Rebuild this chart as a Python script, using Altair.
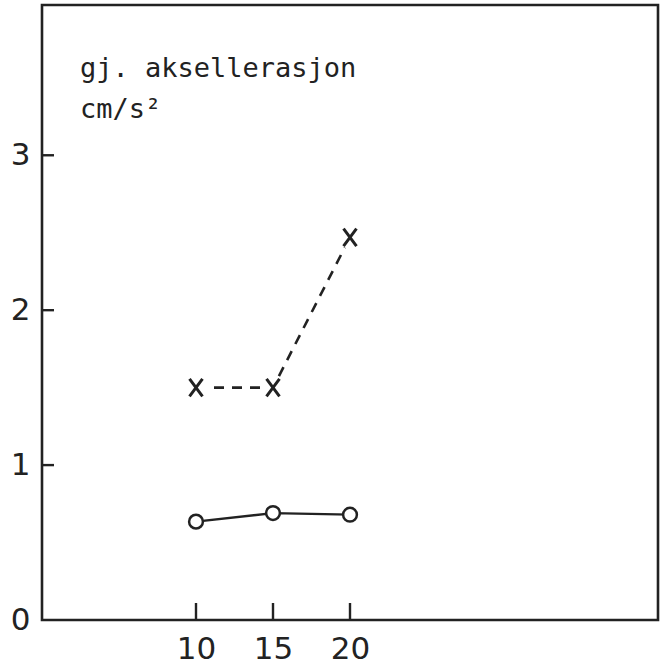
import altair as alt
import pandas as pd

# data
x_vals = [10, 15, 20]
dashed_vals = [1.50, 1.50, 2.47]   # x markers, dashed line
solid_vals = [0.635, 0.69, 0.68]   # open circles, solid line
x_ticks = [10, 15, 20]
y_ticks = [0, 1, 2, 3]
title_lines = ["gj. aksellerasjon", "cm/s²"]

INK = "#222222"
FONT = "DejaVu Sans"

dash_df = pd.DataFrame({"x": x_vals, "y": dashed_vals})
solid_df = pd.DataFrame({"x": x_vals, "y": solid_vals})
ytick_df = pd.DataFrame({"y": y_ticks[1:]})
xtick_df = pd.DataFrame({"x": x_ticks})

xscale = alt.Scale(domain=[0, 40], nice=False, zero=False)
yscale = alt.Scale(domain=[0, 3.97], nice=False, zero=False)

xaxis = alt.Axis(values=x_ticks, title=None, grid=False, domain=False, ticks=False,
                 labelFont=FONT, labelFontSize=31, labelColor=INK, labelPadding=14)
yaxis = alt.Axis(values=y_ticks, title=None, grid=False, domain=False, ticks=False,
                 labelFont=FONT, labelFontSize=31, labelColor=INK, labelPadding=12,
                 labelOverlap=False)

X = alt.X("x:Q", scale=xscale, axis=xaxis)
Y = alt.Y("y:Q", scale=yscale, axis=yaxis)

dash_line = alt.Chart(dash_df).mark_line(
    color=INK, strokeWidth=2.6, strokeDash=[10, 8]
).encode(x=X, y=Y)

# white halo so the dashed line stops short of the x markers
dash_halo = alt.Chart(dash_df).mark_point(
    shape="circle", size=520, fill="white", filled=True, opacity=1, strokeWidth=0
).encode(x=X, y=Y)

xmark = "M-0.75,-1L0.75,1M-0.75,1L0.75,-1"
dash_pts = alt.Chart(dash_df).mark_point(
    shape=xmark, size=300, color=INK, strokeWidth=3, filled=False, opacity=1
).encode(x=X, y=Y)

solid_line = alt.Chart(solid_df).mark_line(
    color=INK, strokeWidth=2.4
).encode(x=X, y=Y)

solid_pts = alt.Chart(solid_df).mark_point(
    shape="circle", size=190, color=INK, fill="white", filled=False,
    strokeWidth=2.5, opacity=1, fillOpacity=1
).encode(x=X, y=Y)

ytick_rules = alt.Chart(ytick_df).mark_rule(color=INK, strokeWidth=2.4).encode(
    y=Y, x=alt.value(0), x2=alt.value(12)
)
xtick_rules = alt.Chart(xtick_df).mark_rule(color=INK, strokeWidth=2.4).encode(
    x=X, y=alt.value(615), y2=alt.value(598)
)

one = pd.DataFrame({"k": [0]})
title1 = alt.Chart(one).mark_text(
    align="left", baseline="alphabetic", font="DejaVu Sans Mono", fontSize=27, color=INK
).encode(text=alt.value(title_lines[0]), x=alt.value(38), y=alt.value(72))
title2 = alt.Chart(one).mark_text(
    align="left", baseline="alphabetic", font="DejaVu Sans Mono", fontSize=27, color=INK
).encode(text=alt.value(title_lines[1]), x=alt.value(38), y=alt.value(113))

chart = alt.layer(
    dash_line, solid_line, dash_halo, dash_pts, solid_pts, ytick_rules, xtick_rules,
    title1, title2
).properties(
    width=616, height=615,
    padding={"left": 42, "top": 5, "right": 11, "bottom": 51},
    autosize=alt.AutoSizeParams(type="none"),
    background="white",
).configure_view(stroke=INK, strokeWidth=2.6)

chart.save("out.html", embed_options={"renderer": "svg", "actions": False})
